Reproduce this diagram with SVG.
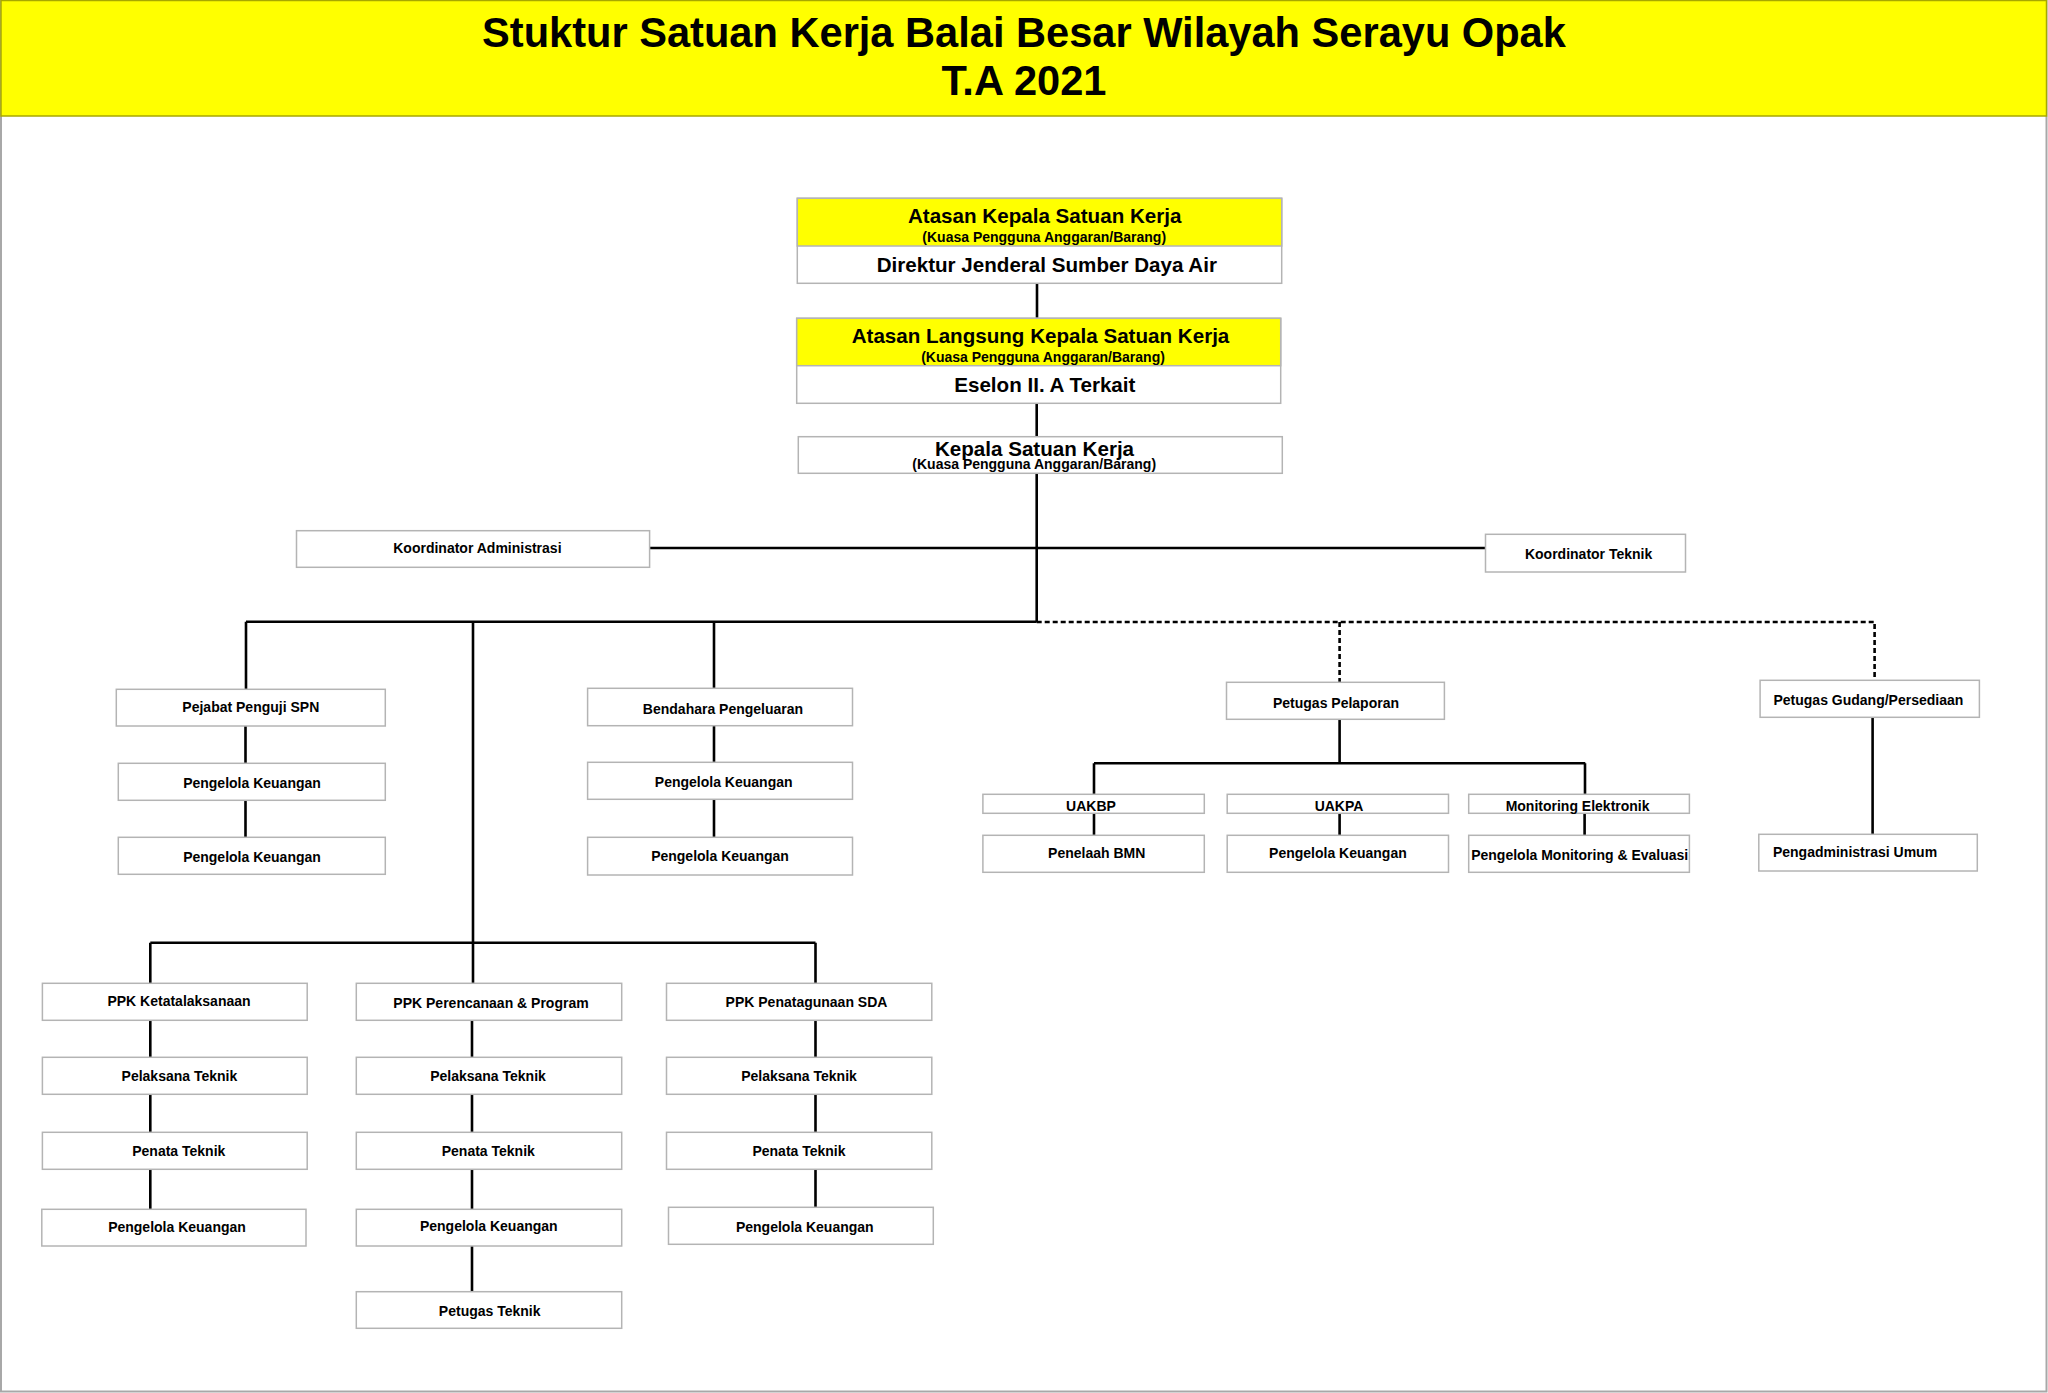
<svg xmlns="http://www.w3.org/2000/svg" width="2048" height="1393" viewBox="0 0 2048 1393">
<style>
text{font-family:"Liberation Sans",Arial,sans-serif;font-weight:bold;fill:#000;text-anchor:middle}
.t{font-size:41.6px}
.b{font-size:20.6px}
.s{font-size:14px}
.n{font-size:14px}
.box{fill:#fff;stroke:#b4b4b4;stroke-width:1.5}
.ybox{fill:#ffff00;stroke:#b4b4b4;stroke-width:1.5}
.c{fill:none;stroke:#000;stroke-width:2.6}
.d{fill:none;stroke:#000;stroke-width:2.6;stroke-dasharray:5 3}
</style>
<rect x="0" y="0" width="2048" height="1393" fill="#fff"/>
<rect x="1" y="1" width="2045.5" height="1390.5" fill="none" stroke="#a8a8a8" stroke-width="2"/>
<g id="title">
<rect x="1" y="0.5" width="2045.5" height="115.5" fill="#ffff00" stroke="#a8a800" stroke-width="1.5"/>
<text class="t" x="1024" y="47">Stuktur Satuan Kerja Balai Besar Wilayah Serayu Opak</text>
<text class="t" x="1024" y="94.5">T.A 2021</text>
</g>
<g id="connectors">
<path class="c" d="M1037,283.3V318.3M1036.7,403.3V436.7M1036.7,473.3V622"/>
<path class="c" d="M649.6,548H1485.5"/>
<path class="c" d="M246,621.7H1036.7M246,621.7V689.3M473,621.7V983.3M714,621.7V688.3"/>
<path class="d" d="M1036.7,622H1874.6V680.3M1339.6,622V682.3"/>
<path class="c" d="M245.5,726V763.3M245.5,800.3V837.3"/>
<path class="c" d="M714,725.7V762.3M714,799.3V837.3"/>
<path class="c" d="M1339.6,719.3V763.3M1094,763.3H1585.3M1094,763.3V794.3M1585,763.3V794.3M1094,813.3V835.3M1339.6,813.3V835.3M1584.6,813.3V835.3"/>
<path class="c" d="M1872.6,717.3V834.3"/>
<path class="c" d="M150.3,942.7H815.5M150.3,942.7V983.3M815.5,942.7V983.3"/>
<path class="c" d="M150.3,1020.3V1057.3M150.3,1094.3V1132.3M150.3,1169.3V1209.3"/>
<path class="c" d="M472,1020.3V1057.3M472,1094.3V1132.3M472,1169.3V1209.3M472,1246V1291.7"/>
<path class="c" d="M815.5,1020.3V1057.3M815.5,1094.3V1132.3M815.5,1169.3V1207.3"/>
</g>
<g id="atasan-kepala">
<rect class="box" x="797.3" y="198.3" width="484.4" height="85"/>
<rect class="ybox" x="797.3" y="198.3" width="484.4" height="47.7"/>
<text class="b" x="1044.7" y="223.3">Atasan Kepala Satuan Kerja</text>
<text class="s" x="1044.2" y="242.3">(Kuasa Pengguna Anggaran/Barang)</text>
<text class="b" x="1046.8" y="271.7">Direktur Jenderal Sumber Daya Air</text>
</g>
<g id="atasan-langsung">
<rect class="box" x="796.7" y="318.3" width="484" height="85"/>
<rect class="ybox" x="796.7" y="318.3" width="484" height="47.4"/>
<text class="b" x="1040.5" y="342.7">Atasan Langsung Kepala Satuan Kerja</text>
<text class="s" x="1043" y="361.7">(Kuasa Pengguna Anggaran/Barang)</text>
<text class="b" x="1044.8" y="391.7">Eselon II. A Terkait</text>
</g>
<g id="kepala-satker">
<rect class="box" x="798.3" y="436.7" width="484" height="36.6"/>
<text class="b" x="1034.5" y="455.7">Kepala Satuan Kerja</text>
<text class="s" x="1034.2" y="469.3">(Kuasa Pengguna Anggaran/Barang)</text>
</g>
<g id="koord-adm"><rect class="box" x="296.5" y="530.7" width="353.1" height="36.6"/><text class="n" x="477.4" y="553">Koordinator Administrasi</text></g>
<g id="koord-teknik"><rect class="box" x="1485.5" y="534.3" width="200" height="37.7"/><text class="n" x="1588.6" y="559">Koordinator Teknik</text></g>
<g id="pejabat-spn"><rect class="box" x="116.3" y="689.3" width="269" height="36.7"/><text class="n" x="250.8" y="712.3">Pejabat Penguji SPN</text></g>
<g id="pk-spn-1"><rect class="box" x="118.3" y="763.3" width="267" height="37"/><text class="n" x="252" y="788.3">Pengelola Keuangan</text></g>
<g id="pk-spn-2"><rect class="box" x="118.3" y="837.3" width="267" height="37"/><text class="n" x="252" y="862.3">Pengelola Keuangan</text></g>
<g id="bendahara"><rect class="box" x="587.6" y="688.3" width="264.9" height="37.4"/><text class="n" x="723" y="714">Bendahara Pengeluaran</text></g>
<g id="pk-bend-1"><rect class="box" x="587.6" y="762.3" width="264.9" height="37"/><text class="n" x="723.7" y="787.3">Pengelola Keuangan</text></g>
<g id="pk-bend-2"><rect class="box" x="587.6" y="837.3" width="264.9" height="37.7"/><text class="n" x="720" y="861.3">Pengelola Keuangan</text></g>
<g id="pelaporan"><rect class="box" x="1226.5" y="682.3" width="217.9" height="37"/><text class="n" x="1336" y="708">Petugas Pelaporan</text></g>
<g id="uakbp"><rect class="box" x="982.9" y="794.3" width="221.4" height="19"/><text class="n" x="1091" y="810.5">UAKBP</text></g>
<g id="uakpa"><rect class="box" x="1227.2" y="794.3" width="221.3" height="19"/><text class="n" x="1339" y="810.5">UAKPA</text></g>
<g id="monitoring"><rect class="box" x="1468.7" y="794.3" width="220.7" height="19"/><text class="n" x="1577.6" y="811.2">Monitoring Elektronik</text></g>
<g id="penelaah"><rect class="box" x="982.9" y="835.3" width="221.4" height="37"/><text class="n" x="1096.7" y="858">Penelaah BMN</text></g>
<g id="pk-uakpa"><rect class="box" x="1227.2" y="835.3" width="221.3" height="37"/><text class="n" x="1337.9" y="858">Pengelola Keuangan</text></g>
<g id="pengelola-monev"><rect class="box" x="1468.7" y="835.3" width="220.7" height="37"/><text class="n" x="1579.7" y="859.7">Pengelola Monitoring &amp; Evaluasi</text></g>
<g id="gudang"><rect class="box" x="1760.1" y="680.3" width="219.3" height="37"/><text class="n" x="1868.4" y="704.7">Petugas Gudang/Persediaan</text></g>
<g id="pengadministrasi"><rect class="box" x="1758.8" y="834.3" width="218.5" height="36.7"/><text class="n" x="1855" y="857.3">Pengadministrasi Umum</text></g>
<g id="ppk-ketata"><rect class="box" x="42.4" y="983.3" width="264.8" height="37"/><text class="n" x="179" y="1005.7">PPK Ketatalaksanaan</text></g>
<g id="ppk-perencanaan"><rect class="box" x="356.3" y="983.3" width="265.4" height="37"/><text class="n" x="491" y="1008.3">PPK Perencanaan &amp; Program</text></g>
<g id="ppk-penatagunaan"><rect class="box" x="666.5" y="983.3" width="265.3" height="37"/><text class="n" x="806.5" y="1007.3">PPK Penatagunaan SDA</text></g>
<g id="pelaksana-1"><rect class="box" x="42.4" y="1057.3" width="264.8" height="37"/><text class="n" x="179.4" y="1081.3">Pelaksana Teknik</text></g>
<g id="pelaksana-2"><rect class="box" x="356.3" y="1057.3" width="265.4" height="37"/><text class="n" x="488" y="1081.3">Pelaksana Teknik</text></g>
<g id="pelaksana-3"><rect class="box" x="666.5" y="1057.3" width="265.3" height="37"/><text class="n" x="799" y="1081.3">Pelaksana Teknik</text></g>
<g id="penata-1"><rect class="box" x="42.4" y="1132.3" width="264.8" height="37"/><text class="n" x="178.8" y="1155.7">Penata Teknik</text></g>
<g id="penata-2"><rect class="box" x="356.3" y="1132.3" width="265.4" height="37"/><text class="n" x="488.3" y="1155.7">Penata Teknik</text></g>
<g id="penata-3"><rect class="box" x="666.5" y="1132.3" width="265.3" height="37"/><text class="n" x="799" y="1155.7">Penata Teknik</text></g>
<g id="pk-ppk-1"><rect class="box" x="41.8" y="1209.3" width="264.2" height="36.7"/><text class="n" x="177" y="1232.3">Pengelola Keuangan</text></g>
<g id="pk-ppk-2"><rect class="box" x="356.3" y="1209.3" width="265.4" height="36.7"/><text class="n" x="488.8" y="1230.7">Pengelola Keuangan</text></g>
<g id="pk-ppk-3"><rect class="box" x="668.5" y="1207.3" width="264.8" height="37"/><text class="n" x="804.8" y="1232.3">Pengelola Keuangan</text></g>
<g id="petugas-teknik"><rect class="box" x="356.3" y="1291.7" width="265.4" height="36.6"/><text class="n" x="489.7" y="1315.7">Petugas Teknik</text></g>
</svg>
